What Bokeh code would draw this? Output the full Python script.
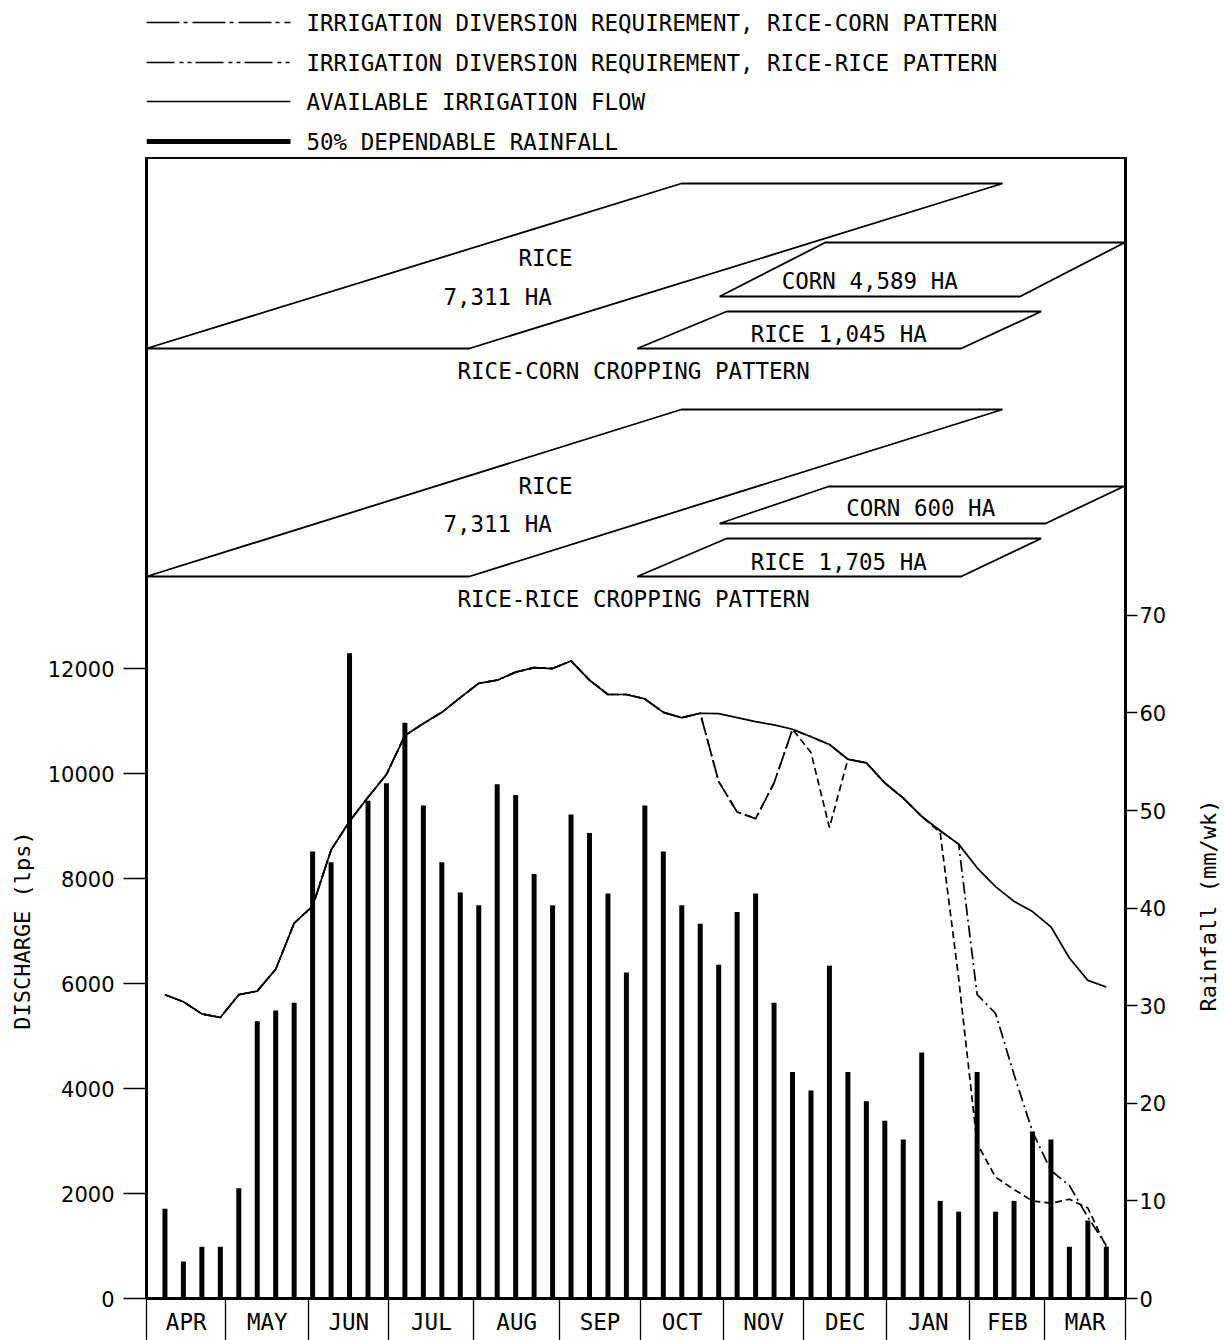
import math
from bokeh.plotting import figure
from bokeh.models import Range1d, LinearAxis, FixedTicker
from bokeh.layouts import column, row
from bokeh.embed import file_html
from bokeh.resources import INLINE
from bokeh.core.properties import value

# ---------------- DATA ----------------
weeks = list(range(1, 53))

rainfall_mm = [9.2, 3.8, 5.3, 5.3, 11.3, 28.4, 29.5, 30.3, 45.8, 44.7,
               66.1, 51.0, 52.8, 59.0, 50.5, 44.7, 41.6, 40.3, 52.7, 51.6,
               43.5, 40.3, 49.6, 47.7, 41.5, 33.4, 50.5, 45.8, 40.3, 38.4,
               34.2, 39.6, 41.5, 30.3, 23.2, 21.3, 34.1, 23.2, 20.2, 18.2,
               16.3, 25.2, 10.0, 8.9, 23.2, 8.9, 10.0, 17.1, 16.3, 5.3,
               8.0, 5.3]

flow_lps = [5787, 5651, 5421, 5353, 5787, 5855, 6272, 7148, 7472, 8544,
            9089, 9548, 9982, 10723, 10952, 11165, 11446, 11718, 11778, 11931,
            12016, 11999, 12144, 11778, 11505, 11505, 11420, 11165, 11063, 11148,
            11140, 11063, 10987, 10927, 10842, 10700, 10552, 10272, 10203, 9820,
            9531, 9182, 8910, 8655, 8204, 7846, 7565, 7370, 7080, 6485,
            6059, 5932]

div_rice_corn_lps = [5787, 5651, 5421, 5353, 5787, 5855, 6272, 7148, 7472, 8544,
                     9089, 9548, 9982, 10723, 10952, 11165, 11446, 11718, 11778, 11931,
                     12016, 11999, 12144, 11778, 11505, 11505, 11420, 11165, 11063, 11148,
                     9846, 9267, 9140, 9820, 10842, 10700, 10552, 10272, 10203, 9820,
                     9531, 9182, 8910, 8655, 5790, 5430, 4267, 3181, 2438, 2152,
                     1550, 1010]

div_rice_rice_lps = [5787, 5651, 5421, 5353, 5787, 5855, 6272, 7148, 7472, 8544,
                     9089, 9548, 9982, 10723, 10952, 11165, 11446, 11718, 11778, 11931,
                     12016, 11999, 12144, 11778, 11505, 11505, 11420, 11165, 11063, 11148,
                     9846, 9267, 9140, 9820, 10842, 10400, 8970, 10272, 10203, 9820,
                     9531, 9182, 8876, 6100, 2952, 2310, 2076, 1857, 1815, 1890,
                     1724, 975]

months = ["APR", "MAY", "JUN", "JUL", "AUG", "SEP", "OCT", "NOV", "DEC", "JAN", "FEB", "MAR"]
month_bounds_wk = [0.0, 4.30, 8.78, 13.13, 17.74, 22.37, 26.77, 31.25, 35.62, 40.10, 44.61, 48.67, 53.04]

discharge_ticks = [0, 2000, 4000, 6000, 8000, 10000, 12000]
rain_ticks = [0, 10, 20, 30, 40, 50, 60, 70]

legend_labels = ["IRRIGATION DIVERSION REQUIREMENT, RICE-CORN PATTERN",
                 "IRRIGATION DIVERSION REQUIREMENT, RICE-RICE PATTERN",
                 "AVAILABLE IRRIGATION FLOW",
                 "50% DEPENDABLE RAINFALL"]

left_title = "DISCHARGE (lps)"
right_title = "Rainfall (mm/wk)"

# cropping-pattern diagram: blocks (weeks along x)
crop_blocks_x = [[0.0, 17.49, 46.38, 28.98],
                 [31.05, 47.33, 53.0, 36.77],
                 [26.59, 44.14, 48.47, 31.43],
                 [0.0, 17.49, 46.38, 28.98],
                 [31.05, 48.71, 52.94, 36.95],
                 [26.59, 44.14, 48.47, 31.43]]
crop_texts = ["RICE", "7,311 HA", "CORN  4,589 HA", "RICE  1,045 HA", "RICE-CORN CROPPING PATTERN",
              "RICE", "7,311 HA", "CORN  600 HA", "RICE  1,705 HA", "RICE-RICE CROPPING PATTERN"]

# ---------------- LAYOUT (screen positions, page pixels) ----------------
FONT = "DejaVu Sans Mono"
PAGE_W = 1224
TL_W = 36          # strip holding the left title
TR_W = 30          # strip holding the right title
FRAME_LEFT = 146
FRAME_W = 979
RIGHT_BORDER = PAGE_W - FRAME_LEFT - FRAME_W
FRAME_TOP = 157
BASELINE = 1298
BOTTOM_BORDER = 1340 - BASELINE
PX_PER_1000 = 52.5
PX_PER_MM = 9.76
frame_h = BASELINE - FRAME_TOP

crop_blocks_y = [[348, 348, 183, 183],
                 [296, 296, 242, 242],
                 [348, 348, 311, 311],
                 [576, 576, 409, 409],
                 [523, 523, 486, 486],
                 [576, 576, 538, 538]]
crop_text_x = [21.62, 19.02, 39.55, 37.87, 26.39, 21.62, 19.02, 42.31, 37.87, 26.39]
crop_text_y = [257, 296, 280, 333, 370, 485, 523, 507, 561, 598]


def bare(fig):
    fig.axis.visible = False
    fig.grid.visible = False
    fig.outline_line_color = None
    return fig


# ---------------- LEGEND FIGURE ----------------
leg = bare(figure(frame_width=FRAME_W, frame_height=FRAME_TOP,
                  x_range=Range1d(FRAME_LEFT, FRAME_LEFT + FRAME_W), y_range=Range1d(FRAME_TOP, 0),
                  output_backend="svg", toolbar_location=None,
                  min_border_left=FRAME_LEFT, min_border_right=RIGHT_BORDER,
                  min_border_top=0, min_border_bottom=0))
rows_y = [22, 62, 101, 141]
lx = [146, 290]
leg.line(lx, [rows_y[0]] * 2, line_color="black", line_width=1.6, line_dash="33 4 4 5")
leg.line(lx, [rows_y[1]] * 2, line_color="black", line_width=1.6, line_dash="28 5 4 4 4 4")
leg.line(lx, [rows_y[2]] * 2, line_color="black", line_width=1.6)
leg.line(lx, [rows_y[3]] * 2, line_color="black", line_width=5)
leg.text(x=[306] * 4, y=rows_y, text=legend_labels, text_font=value(FONT), text_font_size="22.5px",
         text_align="left", text_baseline="middle", text_color="black")

# ---------------- TITLE STRIPS ----------------
tl = bare(figure(frame_width=TL_W, frame_height=frame_h,
                 x_range=Range1d(0, TL_W), y_range=Range1d(BASELINE, FRAME_TOP),
                 output_backend="svg", toolbar_location=None,
                 min_border_left=0, min_border_right=0, min_border_top=0,
                 min_border_bottom=BOTTOM_BORDER))
tl.text(x=[22], y=[930], text=[left_title], angle=math.pi / 2, text_font=value(FONT),
        text_font_size="22px", text_align="center", text_baseline="middle", text_color="black")

tr = bare(figure(frame_width=TR_W, frame_height=frame_h,
                 x_range=Range1d(PAGE_W - TR_W, PAGE_W), y_range=Range1d(BASELINE, FRAME_TOP),
                 output_backend="svg", toolbar_location=None,
                 min_border_left=0, min_border_right=0, min_border_top=0,
                 min_border_bottom=BOTTOM_BORDER))
tr.text(x=[1208], y=[905], text=[right_title], angle=math.pi / 2, text_font=value(FONT),
        text_font_size="22px", text_align="center", text_baseline="middle", text_color="black")

# ---------------- MAIN FIGURE ----------------
p = figure(frame_width=FRAME_W, frame_height=frame_h,
           x_range=Range1d(month_bounds_wk[0], month_bounds_wk[-1]),
           y_range=Range1d(0, frame_h / PX_PER_1000 * 1000),
           output_backend="svg", toolbar_location=None,
           min_border_left=FRAME_LEFT - TL_W, min_border_right=RIGHT_BORDER - TR_W,
           min_border_top=0, min_border_bottom=BOTTOM_BORDER)
p.extra_y_ranges = {"rain": Range1d(0, frame_h / PX_PER_MM),
                    "diag": Range1d(BASELINE, FRAME_TOP)}
p.grid.visible = False
p.outline_line_color = "black"
p.outline_line_width = 3

# left axis
p.yaxis.ticker = FixedTicker(ticks=discharge_ticks, minor_ticks=[])
p.yaxis.axis_line_color = None
p.yaxis.major_tick_out = 23
p.yaxis.major_tick_in = 0
p.yaxis.major_tick_line_width = 1.5
p.yaxis.major_label_standoff = 9
p.yaxis.major_label_text_font = "DejaVu Sans"
p.yaxis.major_label_text_font_size = "21px"
p.yaxis.major_label_text_color = "black"

# right axis
ra = LinearAxis(y_range_name="rain", ticker=FixedTicker(ticks=rain_ticks, minor_ticks=[]))
ra.axis_line_color = None
ra.major_tick_out = 12
ra.major_tick_in = 0
ra.major_tick_line_width = 1.5
ra.major_label_standoff = 2
ra.major_label_text_font = "DejaVu Sans"
ra.major_label_text_font_size = "21px"
ra.major_label_text_color = "black"
p.add_layout(ra, "right")

# bottom month axis: separators as minor ticks, month names at centres
centers = [round((month_bounds_wk[i] + month_bounds_wk[i + 1]) / 2, 3) for i in range(12)]
p.xaxis.ticker = FixedTicker(ticks=centers, minor_ticks=month_bounds_wk)
p.xaxis.major_label_overrides = {c: m for c, m in zip(centers, months)}
p.xaxis.axis_line_color = None
p.xaxis.major_tick_out = 0
p.xaxis.major_tick_in = 0
p.xaxis.minor_tick_out = BOTTOM_BORDER
p.xaxis.minor_tick_in = 0
p.xaxis.minor_tick_line_width = 1.3
p.xaxis.major_label_standoff = -(BOTTOM_BORDER - 10)
p.xaxis.major_label_text_font = FONT
p.xaxis.major_label_text_font_size = "22.5px"
p.xaxis.major_label_text_color = "black"

# rainfall bars
p.vbar(x=weeks, top=rainfall_mm, width=0.27, bottom=0, y_range_name="rain",
       fill_color="black", line_color=None)

# lines
p.line(weeks, flow_lps, line_color="black", line_width=1.7)
p.line(weeks, div_rice_corn_lps, line_color="black", line_width=1.7, line_dash="12 4 2 4")
p.line(weeks, div_rice_rice_lps, line_color="black", line_width=1.7, line_dash="7 4")

# cropping pattern diagrams
p.patches(xs=crop_blocks_x, ys=crop_blocks_y, y_range_name="diag",
          fill_color=None, line_color="black", line_width=1.8)
p.text(x=crop_text_x, y=crop_text_y, text=crop_texts, y_range_name="diag",
       text_font=value(FONT), text_font_size="22.5px", text_align="center",
       text_baseline="middle", text_color="black")

layout = column(leg, row(tl, p, tr, spacing=0), spacing=0)
open("out.html", "w").write(file_html(layout, INLINE))
